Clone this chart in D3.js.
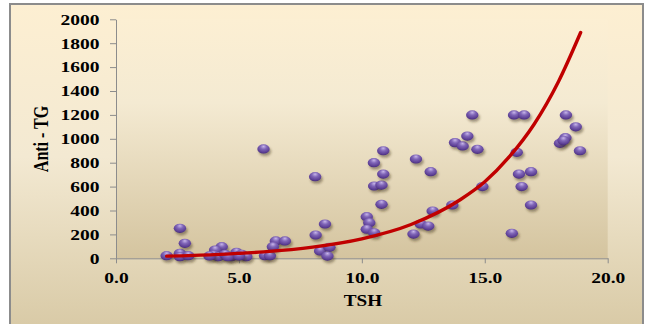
<!DOCTYPE html>
<html><head><meta charset="utf-8">
<script src="https://cdn.jsdelivr.net/npm/d3@7"></script>
<style>
html,body{margin:0;padding:0;background:#fff;}
svg{display:block;}
</style></head>
<body>
<script>
// ---- data ----
const tshValues = [2.06,2.6,2.6,2.94,2.6,2.8,
  4.3,4.03,3.96,4.16,4.43,4.7,4.9,5.11,5.3,4.55,3.8,5.0,
  6.06,6.26,6.5,6.87,6.38,6.0,
  8.1,8.5,8.12,8.3,8.68,8.6,
  10.2,10.3,10.2,10.5,10.5,10.8,10.8,10.87,10.49,10.87,
  12.2,12.8,12.1,12.39,12.7,12.88,13.68,14.9,13.79,14.1,14.29,14.7,14.49,
  16.19,16.6,16.3,16.39,16.88,16.5,16.88,16.1,
  18.3,18.7,18.28,18.06,18.2,18.87];
const antiTgValues = [22,42,14,22,251,125,
  97,69,28,14,33,14,50,33,14,14,20,20,
  22,22,145,145,97,915,
  683,287,195,61,92,19,
  348,298,243,214,605,613,452,705,800,900,
  831,725,203,287,270,396,446,600,968,940,1023,912,1200,
  1200,1200,887,705,725,600,446,209,
  1200,1100,1009,962,985,900];
// trend curve
const trendX = [2.06,4,6,8,10,12,14,15,16,17,18,18.9];
const trendY = [18,31,54,94,163,283,490,640,850,1120,1480,1890];
const xTicks = [0,5,10,15,20];
const xTickLabels = ["0.0","5.0","10.0","15.0","20.0"];
const yTicks = [0,200,400,600,800,1000,1200,1400,1600,1800,2000];
const yTickLabels = ["0","200","400","600","800","1000","1200","1400","1600","1800","2000"];
const xTitle = "TSH";
const yTitle = "Anti - TG";

const W = 648, H = 324;
const svg = d3.select("body").append("svg").attr("width", W).attr("height", H);
const defs = svg.append("defs");

const cg = defs.append("linearGradient").attr("id","chartBg").attr("x1",0).attr("y1",0).attr("x2",0).attr("y2",1);
cg.append("stop").attr("offset","0%").attr("stop-color","#fdefd2");
cg.append("stop").attr("offset","45%").attr("stop-color","#f3e9d2");
cg.append("stop").attr("offset","100%").attr("stop-color","#d6c7a2");

const pg = defs.append("linearGradient").attr("id","plotBg").attr("x1",0).attr("y1",0).attr("x2",0).attr("y2",1);
pg.append("stop").attr("offset","0%").attr("stop-color","#fcefd3");
pg.append("stop").attr("offset","35%").attr("stop-color","#f4ead2");
pg.append("stop").attr("offset","100%").attr("stop-color","#d4c49f");

const rg = defs.append("radialGradient").attr("id","ball").attr("cx","50%").attr("cy","35%").attr("r","65%").attr("fx","50%").attr("fy","22%");
rg.append("stop").attr("offset","0%").attr("stop-color","#c8b6ea");
rg.append("stop").attr("offset","40%").attr("stop-color","#8066b8");
rg.append("stop").attr("offset","85%").attr("stop-color","#5a3c92");
rg.append("stop").attr("offset","100%").attr("stop-color","#432a74");

const f = defs.append("filter").attr("id","shadow").attr("x","-50%").attr("y","-50%").attr("width","200%").attr("height","200%");
f.append("feDropShadow").attr("dx",1.5).attr("dy",2.5).attr("stdDeviation",1.3)
  .attr("flood-color","#3b2c1c").attr("flood-opacity",0.45);

// chart area
svg.append("rect").attr("x",10).attr("y",4).attr("width",633).attr("height",340)
  .attr("fill","url(#chartBg)").attr("stroke","#8c8c8c").attr("stroke-width",2);

const x = d3.scaleLinear().domain([0,20]).range([116, 607.7]);
const y = d3.scaleLinear().domain([0,2000]).range([258.3, 19.3]);

// plot area
svg.append("rect").attr("x",x(0)).attr("y",y(2000)).attr("width",x(20)-x(0)).attr("height",y(0)-y(2000))
  .attr("fill","url(#plotBg)");

const font = "'Liberation Serif','Times New Roman',serif";

// axes
const yAxis = svg.append("g").attr("transform",`translate(${x(0)},0)`)
  .call(d3.axisLeft(y).tickValues(yTicks).tickFormat((d,i)=>yTickLabels[i]).tickSize(6).tickSizeOuter(0));
const xAxis = svg.append("g").attr("transform",`translate(0,${y(0)})`)
  .call(d3.axisBottom(x).tickValues(xTicks).tickFormat((d,i)=>xTickLabels[i]).tickSize(5).tickSizeOuter(0));
[yAxis,xAxis].forEach(g=>{
  g.select(".domain").attr("stroke","#8c8c8c");
  g.selectAll(".tick line").attr("stroke","#8c8c8c");
  g.selectAll("text").attr("fill","#000").style("font-family",font).style("font-weight","bold").style("font-size","15px");
});
yAxis.selectAll(".tick text").attr("x",0).attr("dy","0.32em").attr("text-anchor","end")
  .attr("transform","translate(-16.5,0) scale(1.3,1)");
xAxis.selectAll(".tick text").attr("y",0).attr("dy",0).attr("text-anchor","middle")
  .attr("transform","translate(0,24.4) scale(1.3,1)");

// points
const pts = tshValues.map((v,i)=>({x:v, y:antiTgValues[i]}));
svg.append("g").selectAll("ellipse").data(pts).enter().append("ellipse")
  .attr("cx",d=>x(d.x)).attr("cy",d=>y(d.y)).attr("rx",6.2).attr("ry",4.6)
  .attr("fill","url(#ball)").attr("filter","url(#shadow)");

// trend line
const line = d3.line().x(d=>x(d[0])).y(d=>y(d[1])).curve(d3.curveMonotoneX);
svg.append("path").datum(trendX.map((v,i)=>[v,trendY[i]]))
  .attr("d",line).attr("fill","none").attr("stroke","#c00000").attr("stroke-width",3.4)
  .attr("stroke-linecap","round");

// titles
svg.append("text").attr("transform","translate(363,306) scale(1.2,1)")
  .attr("text-anchor","middle").style("font-family",font).style("font-weight","bold").style("font-size","16px")
  .text(xTitle);
svg.append("text").attr("transform","translate(48,139) scale(1.3,1) rotate(-90)")
  .attr("text-anchor","middle").style("font-family",font).style("font-weight","bold").style("font-size","16px")
  .text(yTitle);
</script>
</body></html>
